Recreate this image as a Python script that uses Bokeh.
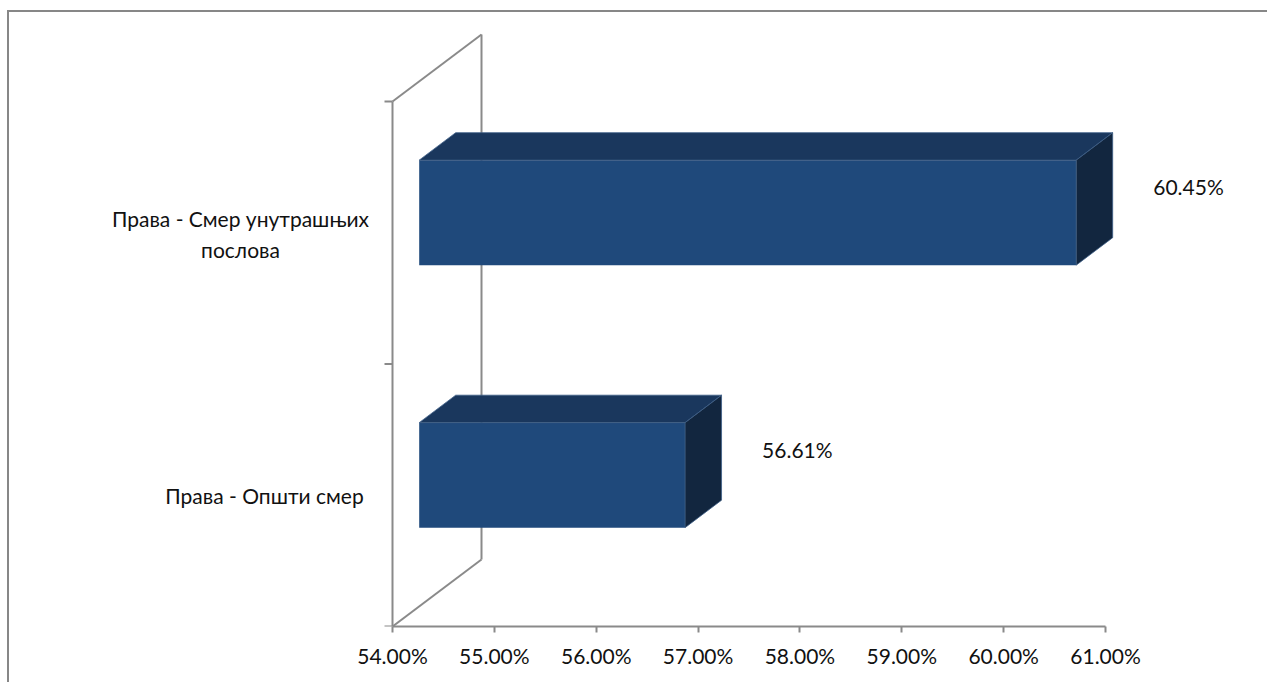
from bokeh.plotting import figure
from bokeh.models import Range1d, FixedTicker
from bokeh.core.properties import value
from bokeh.embed import file_html
from bokeh.resources import INLINE

# ---------------- data ----------------
categories = ["Права - Општи смер", "Права - Смер унутрашњих\nпослова"]
values = [56.61, 60.45]
value_labels = ["56.61%", "60.45%"]
tick_values = [54, 55, 56, 57, 58, 59, 60, 61]
tick_labels = ["54.00%", "55.00%", "56.00%", "57.00%", "58.00%", "59.00%", "60.00%", "61.00%"]

# ---------------- layout / style ----------------
W, H = 1260, 672
AX_MIN, AX_MAX = 54, 61
PX_X = 101.86          # pixels per 1 %
PX_Y = 262.5           # pixels per category band
FRAME_LEFT_PAGE = 9
AXIS_LEFT_PAGE = 392
FRAME_H = 614
BOTTOM = H - FRAME_H

DX = 89 / PX_X         # depth offset of the floor (data units)
DY = 67 / PX_Y
D0, D1 = 0.30, 0.71    # depth slice occupied by bars
HALF = 0.20            # half bar thickness (category units)
TICK = 8 / PX_X

FONT = "Lato"
FS = "21px"
GRAY = "#8a8a8a"
FRONT = "#1F497B"
TOP = "#1A375D"
SIDE = "#12263F"
label_dx = [-128, -152]
label_dy = [0, 1]

xs = AX_MIN - (AXIS_LEFT_PAGE - FRAME_LEFT_PAGE) / PX_X
xe = xs + W / PX_X
ye = FRAME_H / PX_Y

p = figure(width=W, height=H, x_range=Range1d(xs, xe), y_range=Range1d(0, ye),
           output_backend="svg", toolbar_location=None, y_axis_location=None,
           min_border_left=0, min_border_right=0, min_border_top=0,
           min_border_bottom=BOTTOM)
p.outline_line_color = None
p.xgrid.visible = False
p.ygrid.visible = False
p.background_fill_color = "white"
p.border_fill_color = "white"
p.styles = {"border-left": "2px solid #878787", "border-top": "2px solid #878787",
            "margin-left": "7px", "margin-top": "10px"}

# ---- walls / category axis ----
n = len(categories)
p.segment(x0=[AX_MIN], y0=[0], x1=[AX_MIN], y1=[n], line_color=GRAY, line_width=2)
p.segment(x0=[AX_MIN - TICK] * (n + 1), y0=list(range(n + 1)),
          x1=[AX_MIN] * (n + 1), y1=list(range(n + 1)), line_color=GRAY, line_width=2)
p.segment(x0=[AX_MIN + DX], y0=[DY], x1=[AX_MIN + DX], y1=[n + DY], line_color=GRAY, line_width=2)
p.segment(x0=[AX_MIN, AX_MIN], y0=[0, n], x1=[AX_MIN + DX, AX_MIN + DX], y1=[DY, n + DY],
          line_color=GRAY, line_width=2)

# ---- 3D bars ----
cy = [i + 0.5 for i in range(n)]
p.quad(left=[AX_MIN + D0 * DX] * n, right=[v + D0 * DX for v in values],
       bottom=[c - HALF + D0 * DY for c in cy], top=[c + HALF + D0 * DY for c in cy],
       fill_color=FRONT, line_color=None)
top_xs = [[AX_MIN + D0 * DX, v + D0 * DX, v + D1 * DX, AX_MIN + D1 * DX] for v in values]
top_ys = [[c + HALF + D0 * DY, c + HALF + D0 * DY, c + HALF + D1 * DY, c + HALF + D1 * DY] for c in cy]
p.patches(xs=top_xs, ys=top_ys, fill_color=TOP, line_color="#3f5f88", line_width=0.8)
side_xs = [[v + D0 * DX, v + D1 * DX, v + D1 * DX, v + D0 * DX] for v in values]
side_ys = [[c - HALF + D0 * DY, c - HALF + D1 * DY, c + HALF + D1 * DY, c + HALF + D0 * DY] for c in cy]
p.patches(xs=side_xs, ys=side_ys, fill_color=SIDE, line_color="#3f5f88", line_width=0.8)

# ---- labels ----
p.text(x=values, y=cy, text=value_labels, x_offset=139, y_offset=-46,
       text_align="center", text_baseline="middle", text_font=value(FONT),
       text_font_size=FS, text_color="#111111")
p.text(x=[AX_MIN] * n, y=cy, text=categories, x_offset=label_dx, y_offset=label_dy,
       text_align="center", text_baseline="middle", text_font=value(FONT),
       text_font_size=FS, text_color="#111111", text_line_height=1.25)

# ---- value axis ----
ax = p.xaxis[0]
ax.bounds = (AX_MIN, AX_MAX)
ax.ticker = FixedTicker(ticks=tick_values)
ax.major_label_overrides = {t: l for t, l in zip(tick_values, tick_labels)}
ax.minor_tick_line_color = None
ax.major_tick_in = 0
ax.major_tick_out = 6
ax.major_tick_line_color = GRAY
ax.major_tick_line_width = 2
ax.axis_line_color = GRAY
ax.axis_line_width = 2
ax.major_label_text_font = FONT
ax.major_label_text_font_size = FS
ax.major_label_text_color = "#111111"
ax.major_label_standoff = 10

open("out.html", "w").write(file_html(p, INLINE))
